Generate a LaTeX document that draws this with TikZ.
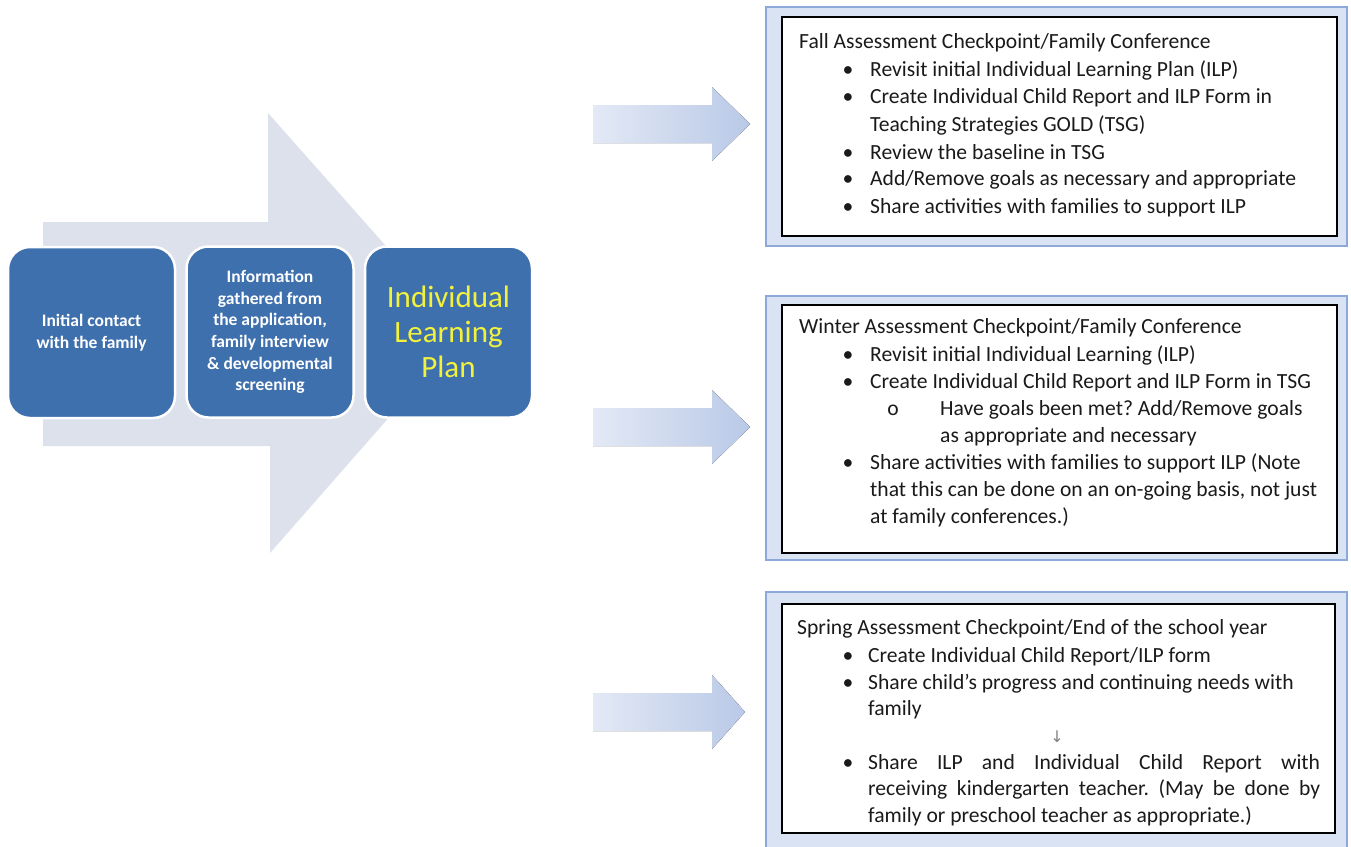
\documentclass[tikz,border=0pt]{standalone}
\usepackage{fontspec}
\setmainfont{Carlito}
\newfontfamily\symfont{DejaVu Sans}
\frenchspacing
\definecolor{bigarrow}{HTML}{DDE1EB}
\definecolor{boxblue}{HTML}{3F70AE}
\definecolor{ilpyellow}{HTML}{F2F23C}
\definecolor{framefill}{HTML}{D9E3F4}
\definecolor{frameline}{HTML}{8DA9DA}
\definecolor{arrowleft}{HTML}{E3E9F5}
\definecolor{arrowright}{HTML}{B9C9E7}
\definecolor{txt}{HTML}{1A1A1A}
\tikzset{
  lbox/.style={draw=white, line width=2.5pt, fill=boxblue, rounded corners=22pt,
    minimum width=167pt, minimum height=171pt, text=white, align=center,
    font=\fontsize{17.5}{21.7}\selectfont\bfseries},
  ilpbox/.style={lbox, text=ilpyellow, font=\fontsize{31}{35}\selectfont},
  frame/.style={fill=framefill, draw=frameline, line width=1.2pt},
  inner/.style={fill=white, draw=black, line width=1.6pt},
  blockarrow/.style={left color=arrowleft, right color=arrowright},
  line/.style={anchor=base west, inner sep=0pt, text=txt, font=\fontsize{21.6}{26}\selectfont},
  dot/.style={anchor=base, inner sep=0pt, text=txt, font=\fontsize{21.6}{26}\selectfont}
}
\begin{document}
\begin{tikzpicture}[x=1pt,y=-1pt]
\useasboundingbox (0,0) rectangle (1351,846);
\fill[white] (0,0) rectangle (1351,846);

% big background arrow
\fill[bigarrow] (43,222) -- (268,222) -- (268,113) -- (463,333) -- (270,553) -- (270,446) -- (43,446) -- cycle;

% left boxes
\node[lbox] (b1) at (91.5,332.5) {Initial contact\\with the family};
\node[lbox] (b2) at (270,332) {Information\\gathered from\\the application,\\family interview\\\& developmental\\screening};
\node[ilpbox] (b3) at (448.5,332) {Individual\\Learning\\Plan};

% small block arrows
\foreach \cy/\tip in {124/750, 427/750, 712/745}{
  \fill[blockarrow] (593,\cy-19) -- (712,\cy-19) -- (712,\cy-37) -- (\tip,\cy) -- (712,\cy+37) -- (712,\cy+19) -- (593,\cy+19) -- cycle;
}

% frames
\draw[frame] (766,7) rectangle (1347,246);
\draw[inner] (782,17) rectangle (1337,236);
\draw[frame] (766,296) rectangle (1347,560);
\draw[inner] (782,305) rectangle (1337,553);
\draw[frame] (766,592) rectangle (1347,850);
\draw[inner] (782,604) rectangle (1335,833);

% Fall
\node[line] (f0) at (799,48) {Fall Assessment Checkpoint/Family Conference};
\node[dot] (fb1) at (848,76) {•};
\node[line] (f1) at (870,76) {Revisit initial Individual Learning Plan (ILP)};
\node[dot] (fb2) at (848,103) {•};
\node[line] (f2) at (870,103) {Create Individual Child Report and ILP Form in};
\node[line] (f2b) at (870,131) {Teaching Strategies GOLD (TSG)};
\node[dot] (fb3) at (848,159) {•};
\node[line] (f3) at (870,159) {Review the baseline in TSG};
\node[dot] (fb4) at (848,185) {•};
\node[line] (f4) at (870,185) {Add/Remove goals as necessary and appropriate};
\node[dot] (fb5) at (848,213) {•};
\node[line] (f5) at (870,213) {Share activities with families to support ILP};

% Winter
\node[line] (w0) at (799,333) {Winter Assessment Checkpoint/Family Conference};
\node[dot] (wb1) at (848,361) {•};
\node[line] (w1) at (870,361) {Revisit initial Individual Learning (ILP)};
\node[dot] (wb2) at (848,388) {•};
\node[line] (w2) at (870,388) {Create Individual Child Report and ILP Form in TSG};
\node[dot] (wb3) at (893,415) {o};
\node[line] (w3) at (940,415) {Have goals been met? Add/Remove goals};
\node[line] (w3b) at (940,442) {as appropriate and necessary};
\node[dot] (wb4) at (848,469) {•};
\node[line] (w4) at (870,469) {Share activities with families to support ILP (Note};
\node[line] (w4b) at (870,496) {that this can be done on an on-going basis, not just};
\node[line] (w4c) at (870,523) {at family conferences.)};

% Spring
\node[line] (s0) at (797,634) {Spring Assessment Checkpoint/End of the school year};
\node[dot] (sb1) at (848,662) {•};
\node[line] (s1) at (868,662) {Create Individual Child Report/ILP form};
\node[dot] (sb2) at (848,689) {•};
\node[line] (s2) at (868,689) {Share child’s progress and continuing needs with};
\node[line] (s2b) at (868,715) {family};
\node[dot, text=gray, font=\symfont\fontsize{16}{18}\selectfont] (sarr) at (1057,742) {↓};
\node[dot] (sb3) at (848,769) {•};
\node[line] (s3) at (868,769) {\makebox[452pt][s]{Share ILP and Individual Child Report with}};
\node[line] (s3b) at (868,795) {\makebox[452pt][s]{receiving kindergarten teacher. (May be done by}};
\node[line] (s3c) at (868,822) {family or preschool teacher as appropriate.)};
\end{tikzpicture}
\end{document}
